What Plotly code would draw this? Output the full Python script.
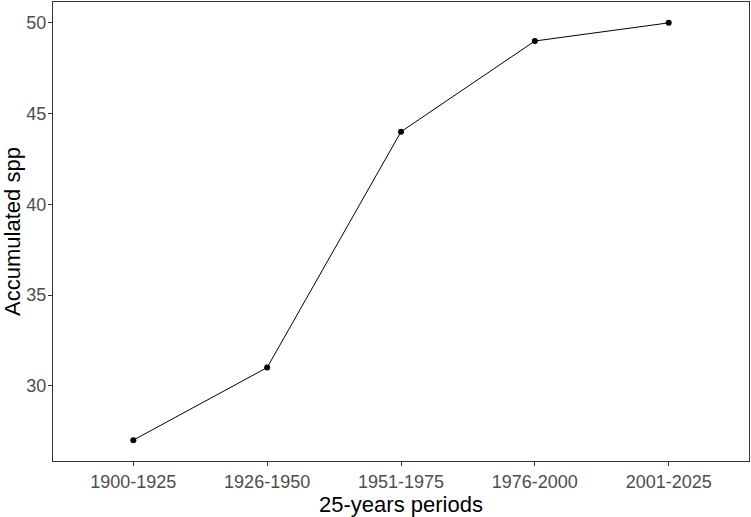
import plotly.graph_objects as go

periods = ["1900-1925", "1926-1950", "1951-1975", "1976-2000", "2001-2025"]
acc_spp = [27, 31, 44, 49, 50]
y_ticks = [30, 35, 40, 45, 50]

fig = go.Figure()
fig.add_trace(go.Scatter(
    x=periods, y=acc_spp, mode="lines+markers",
    line=dict(color="black", width=1),
    marker=dict(color="black", size=6),
    showlegend=False,
))

fig.update_layout(
    width=751, height=517,
    margin=dict(l=53, r=2, t=2, b=56),
    paper_bgcolor="white", plot_bgcolor="white",
    font=dict(family="Liberation Sans, Arial, sans-serif"),
)
fig.update_xaxes(
    type="category", range=[-0.6, 4.6],
    showline=True, linecolor="#333333", linewidth=1.2, mirror=True,
    ticks="outside", ticklen=4, tickcolor="#333333",
    tickfont=dict(size=18, color="#4D4D4D"),
    showgrid=False, zeroline=False,
    title=dict(text="25-years periods", font=dict(size=22, color="black"), standoff=2),
    automargin=False,
)
fig.update_yaxes(
    range=[25.85, 51.15], tickvals=y_ticks,
    showline=True, linecolor="#333333", linewidth=1.2, mirror=True,
    ticks="outside", ticklen=4, tickcolor="#333333",
    tickfont=dict(size=18, color="#4D4D4D"),
    ticklabelstandoff=-2,
    showgrid=False, zeroline=False,
    title=dict(text="Accumulated spp", font=dict(size=22, color="black"), standoff=2),
    automargin=False,
)

fig.write_html("out.html")
